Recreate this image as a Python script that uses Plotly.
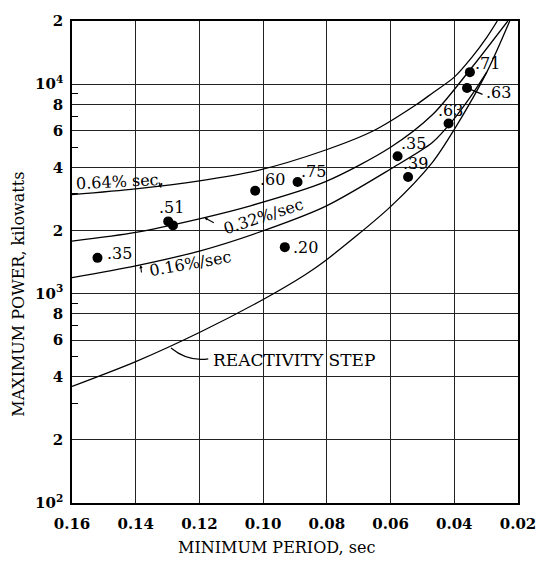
import math
import plotly.graph_objects as go

# ---------------- data ----------------
# curves: minimum period (sec) vs maximum power (kW)
curve_064_t = [0.16, 0.14, 0.12, 0.1022, 0.0806, 0.0652, 0.052, 0.0468, 0.04, 0.0345, 0.0298, 0.0265]
curve_064_p = [2965, 3160, 3450, 3850, 4830, 6000, 7960, 9070, 10790, 13400, 16700, 20000]

curve_032_t = [0.16, 0.14, 0.1197, 0.1037, 0.0806, 0.06, 0.0468, 0.0345, 0.0232]
curve_032_p = [1780, 1960, 2280, 2630, 3410, 4990, 7150, 12000, 20000]

curve_016_t = [0.16, 0.14, 0.1197, 0.1022, 0.0806, 0.06, 0.0468, 0.04, 0.0345, 0.0298]
curve_016_p = [1190, 1355, 1600, 1940, 2600, 3930, 5270, 6840, 8870, 11400]

curve_step_t = [0.16, 0.14, 0.1197, 0.10, 0.0868, 0.0806, 0.06, 0.0468, 0.04, 0.0298, 0.0226]
curve_step_p = [360, 473, 655, 937, 1230, 1430, 2600, 4240, 6070, 11400, 20000]

# experimental points
pts_t = [0.152, 0.1298, 0.1283, 0.1025, 0.0892, 0.0932, 0.0578, 0.0545, 0.0418, 0.036, 0.0351]
pts_p = [1480, 2210, 2115, 3095, 3410, 1665, 4525, 3600, 6480, 9580, 11400]

# point labels (index of the point they belong to)
lbl_idx = [0, 1, 3, 4, 5, 6, 7, 8, 9, 10]
lbl_txt = [".35", ".51", ".60", ".75", ".20", ".35", ".39", ".63", ".63", ".71"]

x_ticks = [0.16, 0.14, 0.12, 0.10, 0.08, 0.06, 0.04, 0.02]
x_ticktext = ["0.16", "0.14", "0.12", "0.10", "0.08", "0.06", "0.04", "0.02"]
y_ticks = [100, 200, 400, 600, 800, 1000, 2000, 4000, 6000, 8000, 10000, 20000]
y_ticktext = ["10<sup>2</sup>", "2", "4", "6", "8", "10<sup>3</sup>", "2", "4", "6", "8", "10<sup>4</sup>", "2"]
y_minor = [300, 500, 700, 900, 3000, 5000, 7000, 9000]

# ---------------- styling ----------------
# label offsets (pixels) relative to their dot: (xshift, yshift, xanchor)
lbl_off = [(8, 4, "left"), (3, 14, "center"), (3, 11, "left"), (1, 10, "left"),
           (6, 0, "left"), (1, 13, "left"), (-7, 14, "left"), (-13, 13, "left"),
           (17, -5, "left"), (3, 9, "left")]

FONT = "DejaVu Serif"
L, R, T, B = 72, 21, 15, 58
W, H = 548, 561
PW, PH = W - L - R, H - T - B


def px2paper(px, py):
    return (px - L) / PW, (H - B - py) / PH


fig = go.Figure()
line_style = dict(color="black", width=1.3, shape="spline", smoothing=0.8)
for t, p in [(curve_064_t, curve_064_p), (curve_032_t, curve_032_p),
             (curve_016_t, curve_016_p), (curve_step_t, curve_step_p)]:
    fig.add_trace(go.Scatter(x=t, y=p, mode="lines", line=line_style,
                             hoverinfo="skip", showlegend=False))

fig.add_trace(go.Scatter(x=pts_t, y=pts_p, mode="markers",
                         marker=dict(color="black", size=10),
                         showlegend=False))

ann = []
for i, txt, (dx, dy, xa) in zip(lbl_idx, lbl_txt, lbl_off):
    ann.append(dict(x=pts_t[i], y=math.log10(pts_p[i]), xref="x", yref="y",
                    text=txt, showarrow=False, xanchor=xa, yanchor="middle",
                    xshift=dx, yshift=dy,
                    font=dict(family=FONT, size=16, color="black")))

# leader for the upper .63 point
ann.append(dict(x=pts_t[9], y=math.log10(pts_p[9]), xref="x", yref="y",
                text="", showarrow=True, arrowhead=0, arrowwidth=1.2,
                arrowcolor="black", ax=17, ay=7, standoff=3))

# curve labels
def free_label(px, py, text, angle=0, xa="center", size=16):
    x, y = px2paper(px, py)
    return dict(x=x, y=y, xref="paper", yref="paper", text=text,
                showarrow=False, textangle=angle, xanchor=xa, yanchor="middle",
                font=dict(family=FONT, size=size, color="black"))

ann.append(free_label(121, 177, "0.64% sec.", -3))
ann.append(free_label(267, 213, "0.32%/sec", -18))
ann.append(free_label(193, 261, "0.16%/sec", -10))
ann.append(free_label(214, 358, "REACTIVITY STEP", 0, "left", 17))

# small pointer arrows
def pointer(px, py, ax, ay):
    x, y = px2paper(px, py)
    return dict(x=x, y=y, xref="paper", yref="paper", text="", showarrow=True,
                arrowhead=2, arrowsize=0.6, arrowwidth=1.1, arrowcolor="black",
                ax=ax, ay=ay)

ann.append(pointer(207, 214, 11, 6))
ann.append(pointer(142, 262, 1, 9))
ann.append(pointer(163, 184, -3, -7))

# axis titles
xt = px2paper(281, 548)
ann.append(dict(x=xt[0], y=xt[1], xref="paper", yref="paper",
                xanchor="center", yanchor="middle",
                text="MINIMUM PERIOD, sec", showarrow=False,
                font=dict(family=FONT, size=16, color="black")))
yt = px2paper(18, 292)
ann.append(dict(x=yt[0], y=yt[1], xref="paper", yref="paper",
                xanchor="center", yanchor="middle",
                text="MAXIMUM POWER, kilowatts", showarrow=False, textangle=-90,
                font=dict(family=FONT, size=16, color="black")))

# reactivity-step leader curve
p0 = px2paper(173, 346)
p1 = px2paper(190, 360)
p2 = px2paper(211, 357)
shapes = [dict(type="path", xref="paper", yref="paper",
               path=f"M {p0[0]},{p0[1]} Q {p1[0]},{p1[1]} {p2[0]},{p2[1]}",
               line=dict(color="black", width=1.2))]

fig.update_layout(
    width=W, height=H,
    margin=dict(l=L, r=R, t=T, b=B),
    paper_bgcolor="white", plot_bgcolor="white",
    annotations=ann, shapes=shapes,
    xaxis=dict(range=[0.16, 0.02], tickvals=x_ticks,
               ticktext=[f"<b>{s}</b>" for s in x_ticktext],
               showgrid=True, gridcolor="#222", gridwidth=1,
               showline=True, linecolor="black", linewidth=1.5, mirror=True,
               ticks="", ticklabelstandoff=6, zeroline=False,
               tickfont=dict(family=FONT, size=15, color="black")),
    yaxis=dict(type="log", range=[2, math.log10(20000)], tickvals=y_ticks,
               ticktext=[f"<b>{s}</b>" for s in y_ticktext],
               showgrid=True, gridcolor="#222", gridwidth=1,
               showline=True, linecolor="black", linewidth=1.5, mirror=True,
               ticks="", ticklabelstandoff=4, zeroline=False,
               tickfont=dict(family=FONT, size=15, color="black"),
               minor=dict(tickmode="array", tickvals=y_minor, ticks="inside",
                          ticklen=6, tickcolor="black", showgrid=False)),
)

fig.write_html("out.html")
